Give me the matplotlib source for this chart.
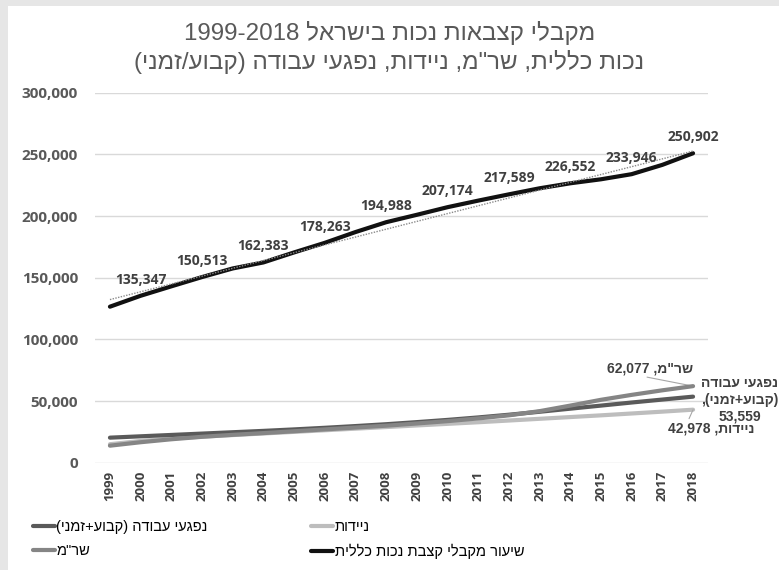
import re
import numpy as np
import matplotlib
matplotlib.use("Agg")
import matplotlib.pyplot as plt
from matplotlib.patches import Rectangle
from matplotlib.ticker import FuncFormatter

# data
years = [str(y) for y in range(1999, 2019)]
general = [126500, 135347, 143000, 150513, 157500, 162383, 170500, 178263, 187000, 194988,
           201000, 207174, 212500, 217589, 222500, 226552, 229800, 233946, 241500, 250902]
work = [20300, 21400, 22500, 23600, 24700, 25800, 27000, 28300, 29700, 31200,
        32900, 34700, 36700, 38900, 41300, 43800, 46300, 48800, 51200, 53559]
sharam = [13800, 16600, 19000, 21000, 22600, 24000, 25500, 27000, 28500, 30000,
          31800, 33700, 35900, 38400, 41800, 46300, 51000, 55000, 58700, 62077]
mobility = [15000, 17600, 19600, 21100, 22400, 23700, 25000, 26300, 27600, 28900,
            30200, 31500, 32800, 34200, 35600, 37000, 38400, 39900, 41400, 42978]

title_1 = "מקבלי קצבאות נכות בישראל 1999-2018"
title_2 = "נכות כללית, שר\"מ, ניידות, נפגעי עבודה (קבוע/זמני)"
name_general = "שיעור מקבלי קצבת נכות כללית"
name_work = "נפגעי עבודה (קבוע+זמני)"
name_sharam = "שר\"מ"
name_mobility = "ניידות"

HEB = ["Liberation Sans", "DejaVu Sans"]
NUM = ["Open Sans", "DejaVu Sans"]
TXT = "#404040"


def heb(s):
    # right-to-left paragraph -> visual order, number runs kept as they are
    tokens = re.findall(r"\d+(?:[,.\-]\d+)*|.", s)
    mirror = {"(": ")", ")": "("}
    return "".join(mirror.get(t, t) for t in reversed(tokens))


fig = plt.figure(figsize=(7.79, 5.70), dpi=100)
fig.patch.set_facecolor("white")
# frame shadow on the top and left edge
fig.add_artist(Rectangle((0, 0), 8 / 779, 1, transform=fig.transFigure, color="#e6e6e6", lw=0))
fig.add_artist(Rectangle((0, 1 - 6 / 570), 1, 6 / 570, transform=fig.transFigure, color="#e6e6e6", lw=0))

ax = fig.add_axes([94.6 / 779, 1 - 462.7 / 570, 613.8 / 779, 370 / 570])
x = np.arange(len(years))

ax.plot(x, mobility, color="#bdbdbd", lw=3, solid_capstyle="round", label=heb(name_mobility), zorder=3)
ax.plot(x, work, color="#5a5a5a", lw=3, solid_capstyle="round", label=heb(name_work), zorder=4)
ax.plot(x, sharam, color="#858585", lw=3, solid_capstyle="round", label=heb(name_sharam), zorder=5)
ax.plot(x, general, color="#111111", lw=3, solid_capstyle="round", label=heb(name_general), zorder=6)

# linear trendline of the general series
k, b = np.polyfit(x, general, 1)
ax.plot(x, k * x + b, color="#8a8a8a", lw=1, ls=(0, (1, 1)), zorder=7)

# data labels on the general series
for i in range(1, len(years), 2):
    ax.annotate(f"{general[i]:,}", (x[i], general[i]), xytext=(0, 11.5), textcoords="offset points",
                ha="center", va="center", fontsize=10, fontweight="bold", color=TXT, family=NUM, zorder=8)

# labels at the end of the lower series
ax.annotate(heb(f"{name_sharam}, {sharam[-1]:,}"), (x[-1], sharam[-1]), xytext=(0, 18),
            textcoords="offset pixels", ha="right", va="center", fontsize=10, fontweight="bold",
            color=TXT, family=HEB)
ax.annotate("", (x[-1], sharam[-1]), xytext=(-46, 9), textcoords="offset pixels",
            arrowprops=dict(arrowstyle="-", color="#a6a6a6", lw=0.8, shrinkA=0, shrinkB=0))
work_lines = [heb("נפגעי עבודה"), heb("(קבוע+זמני),"), f"{work[-1]:,}"]
ax.annotate("\n".join(work_lines), (x[-1], work[-1]), xytext=(47, -3), textcoords="offset pixels",
            ha="center", va="center", fontsize=10, fontweight="bold", color=TXT, family=HEB,
            linespacing=1.25, annotation_clip=False)
ax.annotate(heb(f"{name_mobility}, {mobility[-1]:,}"), (x[-1], mobility[-1]), xytext=(18, -19),
            textcoords="offset pixels", ha="center", va="center", fontsize=10, fontweight="bold",
            color=TXT, family=HEB)
ax.annotate("", (x[-1], mobility[-1]), xytext=(-4, -9), textcoords="offset pixels",
            arrowprops=dict(arrowstyle="-", color="#a6a6a6", lw=0.8, shrinkA=0, shrinkB=0))

ax.set_xlim(-0.5, len(years) - 0.5)
ax.set_ylim(0, 300000)
ax.set_xticks(x)
ax.set_xticklabels(years, rotation=90, fontsize=9.5, fontweight="bold", color=TXT, family=NUM)
ax.set_yticks(np.arange(0, 300001, 50000))
ax.yaxis.set_major_formatter(FuncFormatter(lambda v, p: f"{int(v):,}"))
for lab in ax.get_yticklabels():
    lab.set_fontsize(11)
    lab.set_fontweight("bold")
    lab.set_color("#595959")
    lab.set_family(NUM)
ax.tick_params(axis="y", length=0, pad=12)
ax.tick_params(axis="x", length=0, pad=6)
ax.yaxis.grid(True, color="#d9d9d9", lw=1)
ax.set_axisbelow(True)
for s in ax.spines.values():
    s.set_visible(False)

fig.text(0.5, 1 - 33 / 570, heb(title_1), ha="center", va="center", fontsize=17.4, color="#595959", family=HEB)
fig.text(0.5, 1 - 62 / 570, heb(title_2), ha="center", va="center", fontsize=17.4, color="#595959", family=HEB)

h = {l.get_label(): l for l in ax.get_lines()}
order = [heb(name_work), heb(name_sharam), heb(name_mobility), heb(name_general)]
fig.legend([h[n] for n in order], order, ncol=2, loc="upper left",
           bbox_to_anchor=(33 / 779, 1 - 520 / 570), frameon=False, borderpad=0, borderaxespad=0,
           handlelength=1.5, handletextpad=0.1, columnspacing=7.1, labelspacing=0.7,
           prop={"family": HEB, "size": 10.5})

fig.savefig("out.png", dpi=100)
